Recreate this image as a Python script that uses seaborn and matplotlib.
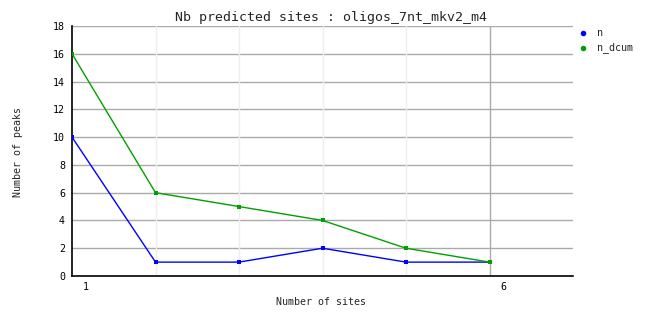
import matplotlib
matplotlib.use("Agg")
import matplotlib.pyplot as plt
import matplotlib.transforms as mtransforms
from matplotlib.lines import Line2D
import seaborn as sns
import pandas as pd

# data
sites = [1, 2, 3, 4, 5, 6]
n_values = [10, 1, 1, 2, 1, 1]
n_dcum_values = [16, 6, 5, 4, 2, 1]
series_names = ["n", "n_dcum"]
colors = {"n": "#0000ff", "n_dcum": "#00a000"}
title = "Nb predicted sites : oligos_7nt_mkv2_m4"
xlabel = "Number of sites"
ylabel = "Number of peaks"
xtick_vals = [1, 6]
ytick_vals = list(range(0, 19, 2))

df = pd.DataFrame({
    "sites": sites + sites,
    "value": n_values + n_dcum_values,
    "series": ["n"] * len(sites) + ["n_dcum"] * len(sites),
})

sns.set_style("white")
plt.rcParams["font.family"] = ["DejaVu Sans Mono"]

W, H = 662, 328
fig = plt.figure(figsize=(W / 100, H / 100), dpi=100)
ax = fig.add_axes([72 / W, 1 - 276 / H, (573 - 72) / W, (276 - 26) / H])

# grid
for y in ytick_vals[1:]:
    ax.axhline(y, color="#aaaaaa", lw=1, zorder=0)
for x in [2, 3, 4, 5]:
    ax.axvline(x, color="#eeeeee", lw=1, zorder=0)
ax.axvline(6, color="#aaaaaa", lw=1, zorder=0)

sns.lineplot(data=df, x="sites", y="value", hue="series", palette=colors,
             marker="s", markersize=3.5, markeredgewidth=0, lw=1, ax=ax,
             legend=False, zorder=3)

ax.set_xlim(1, 7)
ax.set_ylim(0, 18)
ax.set_xticks(xtick_vals)
ax.set_xticklabels([str(v) for v in xtick_vals])
ax.set_yticks(ytick_vals)
ax.tick_params(axis="both", length=0, labelsize=7.2, colors="black")
ax.tick_params(axis="y", pad=5)
ax.tick_params(axis="x", pad=4)
offset = mtransforms.ScaledTranslation(14 / 100, 0, fig.dpi_scale_trans)
for lab in ax.get_xticklabels():
    lab.set_transform(lab.get_transform() + offset)

for s in ["top", "right"]:
    ax.spines[s].set_visible(False)
for s in ["left", "bottom"]:
    ax.spines[s].set_color("black")
    ax.spines[s].set_linewidth(1.2)

ax.set_xlabel("")
ax.set_ylabel("")
fig.text(321 / W, 1 - 302 / H, xlabel, ha="center", va="center", fontsize=7.2)
fig.text(18 / W, 1 - 152 / H, ylabel, ha="center", va="center", rotation=90, fontsize=7.2)
fig.text(331 / W, 1 - 17 / H, title, ha="center", va="center", fontsize=9.5)

for i, name in enumerate(series_names):
    yy = 1 - (33 + 15 * i) / H
    fig.add_artist(Line2D([583 / W], [yy], marker="o", markersize=4,
                          color=colors[name], markeredgewidth=0, transform=fig.transFigure))
    fig.text(597 / W, yy, name, ha="left", va="center", fontsize=7.2)

fig.savefig("out.png", dpi=100)
